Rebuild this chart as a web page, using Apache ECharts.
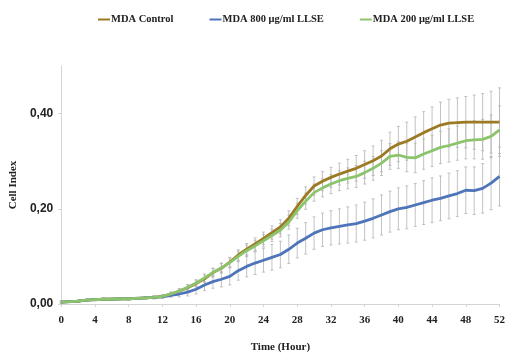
<!DOCTYPE html>
<html>
<head>
<meta charset="utf-8">
<script src="https://cdn.jsdelivr.net/npm/echarts@6/dist/echarts.min.js"></script>
<style>html,body{margin:0;padding:0;background:#fff}#c{width:508px;height:358px}</style>
</head>
<body>
<div id="c"></div>
<script>
var hours = [];
for (var h = 0; h <= 52; h++) hours.push(h);
var xTicks = [0,4,8,12,16,20,24,28,32,36,40,44,48,52];
var yTicks = ["0,00","0,20","0,40"];
var seriesNames = ["MDA Control","MDA 800 μg/ml LLSE","MDA 200 μg/ml LLSE"];

var control = [0.004,0.005,0.006,0.008,0.009,0.010,0.010,0.011,0.011,0.012,0.013,0.014,0.016,0.021,0.027,0.034,0.043,0.053,0.066,0.075,0.088,0.103,0.115,0.126,0.138,0.150,0.162,0.180,0.205,0.228,0.248,0.258,0.266,0.273,0.279,0.285,0.293,0.301,0.311,0.326,0.336,0.342,0.351,0.360,0.368,0.376,0.380,0.381,0.382,0.382,0.382,0.382,0.382];
var llse800 = [0.004,0.005,0.006,0.008,0.009,0.010,0.010,0.011,0.011,0.012,0.013,0.014,0.015,0.018,0.021,0.025,0.031,0.040,0.047,0.052,0.058,0.070,0.079,0.086,0.092,0.098,0.104,0.115,0.128,0.138,0.149,0.156,0.160,0.163,0.166,0.169,0.174,0.180,0.187,0.194,0.200,0.203,0.208,0.213,0.218,0.222,0.227,0.232,0.239,0.238,0.243,0.254,0.268];
var llse200 = [0.004,0.005,0.006,0.008,0.009,0.010,0.010,0.011,0.011,0.012,0.013,0.014,0.016,0.021,0.027,0.035,0.044,0.055,0.066,0.076,0.087,0.100,0.112,0.122,0.133,0.144,0.155,0.172,0.196,0.216,0.234,0.244,0.252,0.259,0.264,0.268,0.276,0.285,0.296,0.310,0.313,0.308,0.307,0.315,0.322,0.329,0.333,0.338,0.343,0.345,0.346,0.352,0.366];

var controlErr = [0.002,0.002,0.002,0.002,0.002,0.002,0.002,0.002,0.002,0.002,0.002,0.003,0.003,0.004,0.005,0.006,0.007,0.008,0.009,0.010,0.010,0.011,0.012,0.013,0.013,0.014,0.015,0.016,0.017,0.018,0.019,0.020,0.021,0.023,0.025,0.027,0.029,0.031,0.033,0.035,0.037,0.040,0.042,0.044,0.046,0.048,0.050,0.052,0.054,0.057,0.060,0.065,0.072];
var llse800Err = [0.002,0.002,0.002,0.002,0.002,0.002,0.002,0.002,0.002,0.002,0.002,0.003,0.003,0.004,0.006,0.008,0.010,0.012,0.014,0.016,0.018,0.020,0.022,0.024,0.025,0.027,0.028,0.030,0.031,0.033,0.034,0.035,0.036,0.037,0.038,0.039,0.040,0.041,0.042,0.043,0.044,0.045,0.045,0.046,0.047,0.047,0.048,0.048,0.049,0.050,0.052,0.056,0.062];
var llse200Err = [0.002,0.002,0.002,0.002,0.002,0.002,0.002,0.002,0.002,0.002,0.002,0.003,0.003,0.004,0.005,0.006,0.007,0.008,0.009,0.010,0.010,0.011,0.012,0.012,0.013,0.013,0.014,0.015,0.016,0.017,0.018,0.019,0.020,0.021,0.022,0.023,0.024,0.025,0.026,0.027,0.028,0.030,0.031,0.032,0.033,0.034,0.035,0.036,0.038,0.040,0.042,0.045,0.050];

var colors = ["#9c7a24","#4e74b9","#8cc46c"];

function lineData(v){ return hours.map(function(h,i){ return [h, v[i]]; }); }
function errData(v,e){ return hours.map(function(h,i){ return [h, v[i]-e[i], v[i]+e[i]]; }); }

function renderErr(params, api){
  var x = api.value(0);
  var lo = api.coord([x, api.value(1)]);
  var hi = api.coord([x, api.value(2)]);
  var cap = 1.5;
  var st = {stroke:'#b4b4b4', lineWidth:0.8};
  return {type:'group', children:[
    {type:'line', shape:{x1:lo[0],y1:lo[1],x2:hi[0],y2:hi[1]}, style:st},
    {type:'line', shape:{x1:lo[0]-cap,y1:lo[1],x2:lo[0]+cap,y2:lo[1]}, style:st},
    {type:'line', shape:{x1:hi[0]-cap,y1:hi[1],x2:hi[0]+cap,y2:hi[1]}, style:st}
  ]};
}

var serif = "'Liberation Serif','DejaVu Serif',serif";
var chart = echarts.init(document.getElementById('c'));
var vals = [control, llse800, llse200];
var errs = [controlErr, llse800Err, llse200Err];
var series = [];
for (var k = 0; k < 3; k++) {
  series.push({type:'custom', renderItem: renderErr, data: errData(vals[k], errs[k]), z: 1, silent: true, encode:{x:0, y:[1,2]}});
}
for (var k = 0; k < 3; k++) {
  series.push({name: seriesNames[k], type:'line', data: lineData(vals[k]), showSymbol:false, symbol:'none',
    lineStyle:{color:colors[k], width:2.8}, itemStyle:{color:colors[k]}, z: 3});
}

chart.setOption({
  animation:false,
  legend:{
    top: 9, left: 93,
    itemWidth: 12, itemHeight: 2, itemGap: 36, icon: 'rect',
    data: seriesNames,
    textStyle:{fontFamily: serif, fontWeight:'bold', fontSize:10.5, color:'#222', padding:[0,0,0,-4]}
  },
  grid:{left:51, right:8, top:66, bottom:49},
  xAxis:{
    type:'value', min:0, max:52, interval:4,
    name:'Time (Hour)', nameLocation:'middle', nameGap:38,
    nameTextStyle:{fontFamily: serif, fontWeight:'bold', fontSize:11, color:'#222'},
    axisLine:{lineStyle:{color:'#d4d4d4'}},
    axisTick:{show:true, length:3, lineStyle:{color:'#d4d4d4'}},
    splitLine:{show:false},
    axisLabel:{fontFamily: serif, fontWeight:'bold', fontSize:11, color:'#222', margin:11,
      formatter:function(v){ return xTicks.indexOf(v) >= 0 ? String(v) : ''; }}
  },
  yAxis:{
    type:'value', min:0, max:0.5, interval:0.2,
    name:'Cell Index', nameLocation:'middle', nameGap:36,
    nameTextStyle:{fontFamily: serif, fontWeight:'bold', fontSize:11, color:'#222'},
    axisLine:{show:true, lineStyle:{color:'#d4d4d4'}},
    axisTick:{show:true, length:3, lineStyle:{color:'#d4d4d4'}},
    splitLine:{show:false},
    axisLabel:{showMaxLabel:false, fontFamily:"'Liberation Sans Narrow','Liberation Sans',sans-serif", fontWeight:'bold', fontSize:12, color:'#222', margin:8,
      formatter:function(v){ var i = Math.round(v/0.2); return (Math.abs(v - i*0.2) < 1e-6 && i < yTicks.length) ? yTicks[i] : ''; }}
  },
  series: series
});
</script>
</body>
</html>
